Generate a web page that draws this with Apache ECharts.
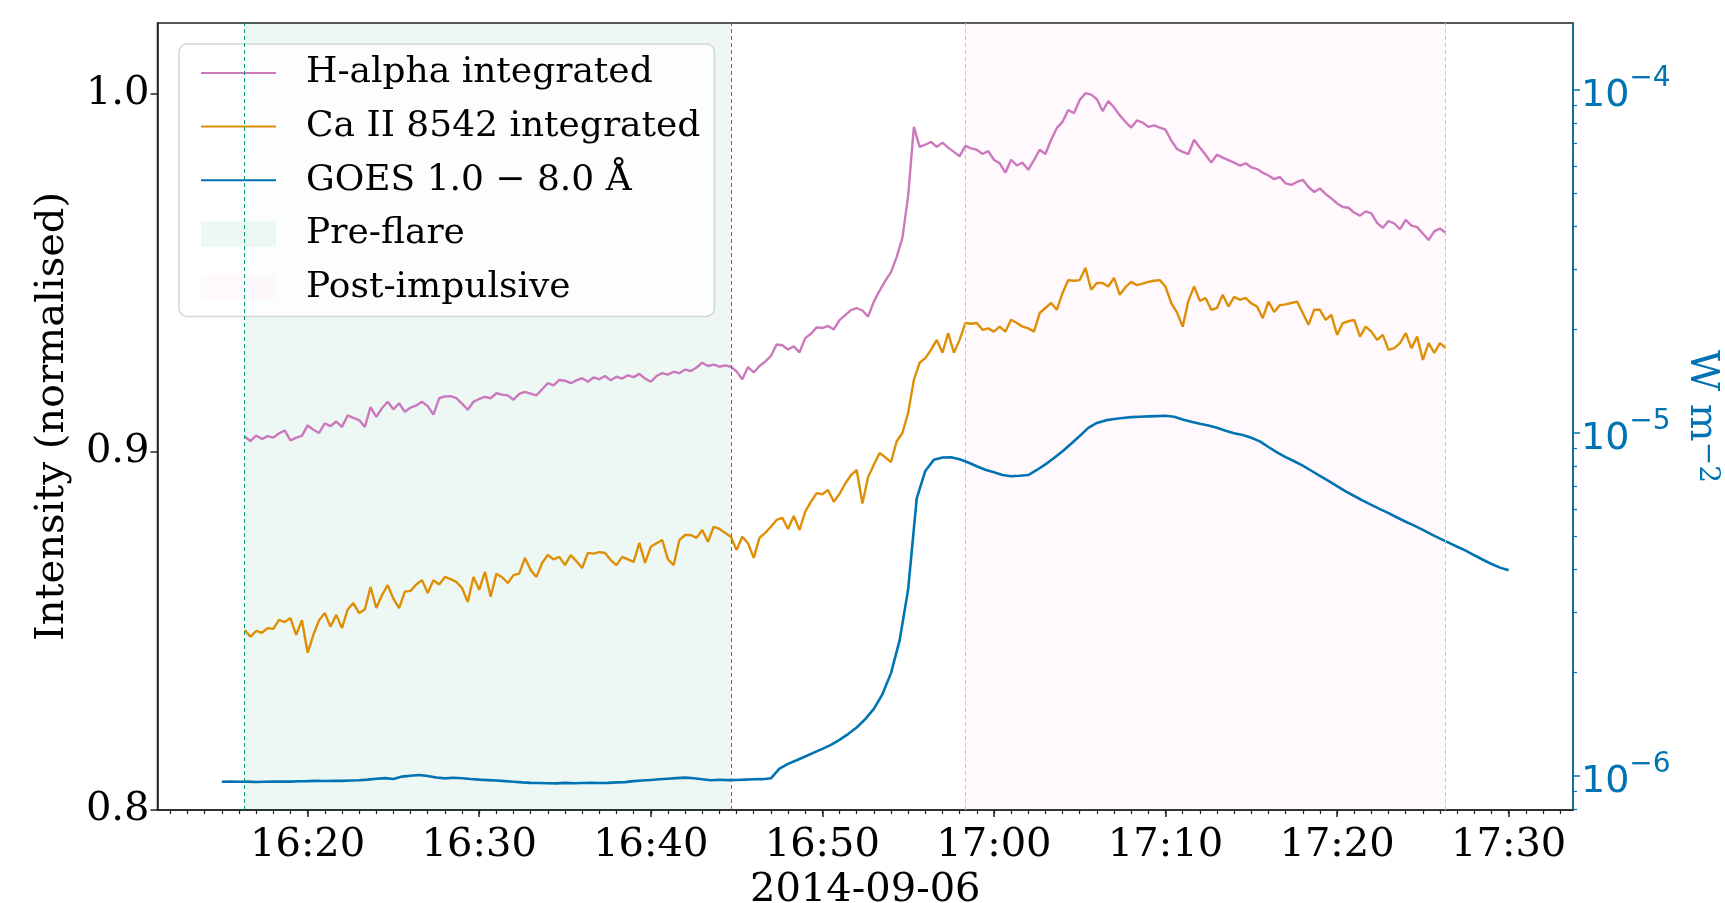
<!DOCTYPE html>
<html>
<head>
<meta charset="utf-8">
<script src="https://cdn.jsdelivr.net/npm/echarts@6/dist/echarts.min.js"></script>
<style>
  html, body { margin: 0; padding: 0; background: #fff; }
  #main { width: 1725px; height: 903px; }
</style>
</head>
<body>
<div id="main"></div>
<script>
// all times are UTC on 2014-09-06
function t(h, m, s) { return Date.UTC(2014, 8, 6, h, m, s || 0); }

// H-alpha integrated (normalised), one value every 20 s from 16:16:20
var haStart = t(16, 16, 20);
var haStep = 20;
var haValues = [
  0.9043, 0.9030, 0.9046,  // 16:16
  0.9036, 0.9044, 0.9040,
  0.9052, 0.9060, 0.9032,
  0.9040, 0.9045, 0.9074,
  0.9062, 0.9053, 0.9080,  // 16:20
  0.9072, 0.9085, 0.9070,
  0.9102, 0.9095, 0.9089,
  0.9070, 0.9125, 0.9098,
  0.9122, 0.9140, 0.9119,
  0.9136, 0.9112, 0.9124,
  0.9130, 0.9140, 0.9128,
  0.9104, 0.9150, 0.9155,
  0.9156, 0.9150, 0.9135,
  0.9118, 0.9140, 0.9148,
  0.9154, 0.9150, 0.9164,  // 16:30
  0.9160, 0.9158, 0.9146,
  0.9162, 0.9168, 0.9163,
  0.9158, 0.9175, 0.9192,
  0.9186, 0.9201, 0.9199,
  0.9192, 0.9200, 0.9206,
  0.9196, 0.9208, 0.9203,
  0.9212, 0.9200, 0.9210,
  0.9205, 0.9214, 0.9209,
  0.9218, 0.9205, 0.9196,
  0.9212, 0.9220, 0.9216,  // 16:40
  0.9224, 0.9220, 0.9230,
  0.9226, 0.9236, 0.9249,
  0.9240, 0.9244, 0.9238,
  0.9242, 0.9238, 0.9225,
  0.9203, 0.9237, 0.9222,
  0.9240, 0.9252, 0.9268,
  0.9300, 0.9298, 0.9286,
  0.9295, 0.9278, 0.9318,
  0.9330, 0.9348, 0.9346,
  0.9352, 0.9342, 0.9368,  // 16:50
  0.9382, 0.9396, 0.9402,
  0.9395, 0.9378, 0.9420,
  0.9450, 0.9478, 0.9502,
  0.9545, 0.9598, 0.9715,
  0.9908, 0.9852, 0.9858,
  0.9866, 0.9852, 0.9864,
  0.9850, 0.9838, 0.9826,
  0.9855, 0.9848, 0.9844,
  0.9832, 0.9840, 0.9816,
  0.9806, 0.9780, 0.9816,  // 17:00
  0.9800, 0.9808, 0.9788,
  0.9815, 0.9844, 0.9832,
  0.9872, 0.9905, 0.9922,
  0.9955, 0.9946, 0.9983,
  1.0002, 0.9998, 0.9985,
  0.9952, 0.9980, 0.9962,
  0.9940, 0.9922, 0.9906,
  0.9926, 0.9920, 0.9908,
  0.9912, 0.9906, 0.9900,
  0.9870, 0.9846, 0.9838,  // 17:10
  0.9832, 0.9872, 0.9850,
  0.9830, 0.9808, 0.9830,
  0.9822, 0.9815, 0.9808,
  0.9800, 0.9806, 0.9795,
  0.9790, 0.9780, 0.9772,
  0.9762, 0.9768, 0.9750,
  0.9746, 0.9754, 0.9760,
  0.9740, 0.9726, 0.9736,
  0.9720, 0.9708, 0.9694,
  0.9684, 0.9682, 0.9668,  // 17:20
  0.9660, 0.9672, 0.9666,
  0.9640, 0.9626, 0.9645,
  0.9638, 0.9622, 0.9648,
  0.9632, 0.9628, 0.9610,
  0.9592, 0.9616, 0.9624,
  0.9612
];

// Ca II 8542 integrated (normalised), same sampling
var caStart = t(16, 16, 20);
var caStep = 20;
var caValues = [
  0.8503, 0.8484, 0.8500,  // 16:16
  0.8495, 0.8508, 0.8506,
  0.8531, 0.8525, 0.8536,
  0.8489, 0.8530, 0.8439,
  0.8489, 0.8530, 0.8550,  // 16:20
  0.8512, 0.8545, 0.8508,
  0.8560, 0.8578, 0.8550,
  0.8560, 0.8623, 0.8564,
  0.8600, 0.8628, 0.8590,
  0.8564, 0.8610, 0.8612,
  0.8630, 0.8642, 0.8606,
  0.8642, 0.8630, 0.8651,
  0.8645, 0.8637, 0.8620,
  0.8581, 0.8651, 0.8615,
  0.8665, 0.8596, 0.8660,  // 16:30
  0.8650, 0.8634, 0.8656,
  0.8660, 0.8704, 0.8670,
  0.8651, 0.8690, 0.8712,
  0.8700, 0.8707, 0.8684,
  0.8712, 0.8695, 0.8676,
  0.8718, 0.8716, 0.8720,
  0.8718, 0.8698, 0.8684,
  0.8707, 0.8700, 0.8693,
  0.8746, 0.8690, 0.8735,
  0.8745, 0.8754, 0.8700,  // 16:40
  0.8684, 0.8754, 0.8768,
  0.8768, 0.8760, 0.8782,
  0.8749, 0.8791, 0.8785,
  0.8774, 0.8763, 0.8726,
  0.8763, 0.8745, 0.8704,
  0.8760, 0.8774, 0.8791,
  0.8810, 0.8816, 0.8785,
  0.8821, 0.8782, 0.8833,
  0.8861, 0.8885, 0.8882,
  0.8894, 0.8861, 0.8883,  // 16:50
  0.8912, 0.8935, 0.8950,
  0.8856, 0.8930, 0.8964,
  0.8997, 0.8985, 0.8972,
  0.9030, 0.9053, 0.9109,
  0.9201, 0.9249, 0.9262,
  0.9285, 0.9313, 0.9277,
  0.9332, 0.9277, 0.9313,
  0.9360, 0.9358, 0.9360,
  0.9341, 0.9345, 0.9336,
  0.9350, 0.9336, 0.9369,  // 17:00
  0.9360, 0.9350, 0.9345,
  0.9336, 0.9388, 0.9402,
  0.9416, 0.9397, 0.9444,
  0.9480, 0.9478, 0.9480,
  0.9514, 0.9453, 0.9472,
  0.9472, 0.9462, 0.9486,
  0.9439, 0.9460, 0.9475,
  0.9466, 0.9470, 0.9475,
  0.9478, 0.9480, 0.9462,
  0.9416, 0.9390, 0.9350,  // 17:10
  0.9422, 0.9462, 0.9422,
  0.9430, 0.9397, 0.9402,
  0.9439, 0.9406, 0.9433,
  0.9425, 0.9430, 0.9415,
  0.9406, 0.9374, 0.9420,
  0.9391, 0.9410, 0.9412,
  0.9416, 0.9420, 0.9388,
  0.9355, 0.9397, 0.9397,
  0.9369, 0.9383, 0.9327,
  0.9360, 0.9365, 0.9369,  // 17:20
  0.9322, 0.9350, 0.9336,
  0.9313, 0.9327, 0.9285,
  0.9290, 0.9304, 0.9332,
  0.9290, 0.9322, 0.9257,
  0.9304, 0.9277, 0.9304,
  0.9290
];

// GOES 1.0-8.0 A flux, every 30 s from 16:15:00, in units of 1e-6 W m^-2
var goesStart = t(16, 15, 0);
var goesStep = 30;
var goesUnit = 1e-6;
var goesValues = [
  0.962, 0.963,  // 16:15
  0.962, 0.963,
  0.961, 0.962,
  0.963, 0.964,
  0.963, 0.965,
  0.966, 0.968,  // 16:20
  0.967, 0.969,
  0.968, 0.970,
  0.972, 0.976,
  0.982, 0.986,
  0.980, 0.996,
  1.002, 1.007,
  1.000, 0.990,
  0.984, 0.988,
  0.985, 0.980,
  0.976, 0.973,  // 16:30
  0.970, 0.966,
  0.962, 0.958,
  0.955, 0.954,
  0.953, 0.952,
  0.955, 0.953,
  0.954, 0.955,
  0.954, 0.955,
  0.958, 0.960,
  0.966, 0.970,
  0.974, 0.978,  // 16:40
  0.982, 0.986,
  0.989, 0.985,
  0.978, 0.972,
  0.975, 0.973,
  0.974, 0.976,
  0.978, 0.979,
  0.985, 1.050,
  1.085, 1.112,
  1.140, 1.170,
  1.200, 1.232,  // 16:50
  1.275, 1.325,
  1.385, 1.465,
  1.570, 1.730,
  1.995, 2.480,
  3.500, 6.450,
  7.750, 8.350,
  8.480, 8.500,
  8.380, 8.200,
  8.000, 7.810,
  7.680, 7.540,  // 17:00
  7.480, 7.500,
  7.540, 7.800,
  8.100, 8.450,
  8.850, 9.300,
  9.800, 10.35,
  10.70, 10.88,
  10.98, 11.06,
  11.12, 11.15,
  11.18, 11.20,
  11.22, 11.15,  // 17:10
  10.95, 10.78,
  10.64, 10.52,
  10.35, 10.15,
  9.98, 9.86,
  9.68, 9.45,
  9.10, 8.78,
  8.50, 8.27,
  8.03, 7.76,
  7.50, 7.25,
  7.00, 6.76,  // 17:20
  6.55, 6.35,
  6.17, 6.00,
  5.84, 5.67,
  5.51, 5.37,
  5.22, 5.06,
  4.92, 4.79,
  4.66, 4.54,
  4.40, 4.27,
  4.15, 4.05,
  3.98         // 17:30
];

var preFlare = [t(16, 16, 20), t(16, 44, 40)];
var postImpulsive = [t(16, 58, 20), t(17, 26, 20)];

var xMin = t(16, 11, 15);
var xMax = t(17, 33, 45);
var timeTicks = [t(16, 20), t(16, 30), t(16, 40), t(16, 50), t(17, 0), t(17, 10), t(17, 20), t(17, 30)];
var minuteTicks = [];
for (var mm = 12; mm <= 93; mm++) minuteTicks.push(t(16, mm));

var intensityTicks = [0.8, 0.9, 1.0];
var fluxTicks = [1e-6, 1e-5, 1e-4];
var fluxMinorTicks = [8e-7, 9e-7, 2e-6, 3e-6, 4e-6, 5e-6, 6e-6, 7e-6, 8e-6, 9e-6,
  2e-5, 3e-5, 4e-5, 5e-5, 6e-5, 7e-5, 8e-5, 9e-5];

function pairs(start, step, values, unit) {
  return values.map(function (v, i) {
    return [start + i * step * 1000, v * (unit || 1)];
  });
}
function pad(n) { return (n < 10 ? '0' : '') + n; }

var serif = 'DejaVu Serif';
var blue = '#0173b2';
var noSymbol = { opacity: 0 };

var myChart = echarts.init(document.getElementById('main'));
myChart.setOption({
  backgroundColor: '#fff',
  animation: false,
  textStyle: { fontFamily: serif },
  grid: {
    left: 157.5, right: 152, top: 23, bottom: 93,
    show: true, borderColor: '#222', borderWidth: 1.5,
    outerBoundsMode: 'none'
  },
  legend: {
    orient: 'vertical',
    left: 179, top: 44,
    padding: [9, 14, 9, 21],
    itemWidth: 75, itemHeight: 26, itemGap: 13.6,
    selectedMode: false,
    backgroundColor: 'rgba(255,255,255,0.8)',
    borderColor: 'rgba(204,204,204,0.8)',
    borderWidth: 1.5, borderRadius: 8,
    textStyle: { fontFamily: serif, fontSize: 36, color: '#000', lineHeight: 40, padding: [0, 0, 0, 25] },
    data: [
      { name: 'H-alpha integrated', itemStyle: noSymbol },
      { name: 'Ca II 8542 integrated', itemStyle: noSymbol },
      { name: 'GOES 1.0 \u2212 8.0 \u00c5', itemStyle: noSymbol },
      { name: 'Pre-flare', icon: 'rect' },
      { name: 'Post-impulsive', icon: 'rect' }
    ]
  },
  xAxis: [{
    type: 'value', min: xMin, max: xMax, position: 'bottom',
    name: '2014-09-06', nameLocation: 'middle', nameGap: 59,
    nameTextStyle: { fontFamily: serif, fontSize: 40, color: '#000' },
    axisLine: { lineStyle: { color: '#222', width: 1.5 } },
    axisTick: { customValues: timeTicks, length: 7, lineStyle: { color: '#222', width: 1.5 } },
    axisLabel: {
      customValues: timeTicks, margin: 16,
      fontFamily: serif, fontSize: 40, color: '#000',
      formatter: function (v) { var d = new Date(v); return pad(d.getUTCHours()) + ':' + pad(d.getUTCMinutes()); }
    },
    splitLine: { show: false }
  }, {
    type: 'value', min: xMin, max: xMax, position: 'bottom',
    axisLine: { show: false },
    axisTick: { customValues: minuteTicks, length: 4, lineStyle: { color: '#222', width: 1.2 } },
    axisLabel: { show: false },
    splitLine: { show: false }
  }],
  yAxis: [{
    type: 'value', min: 0.8, max: 1.0198, position: 'left',
    name: 'Intensity (normalised)', nameLocation: 'middle', nameGap: 85,
    nameTextStyle: { fontFamily: serif, fontSize: 40, color: '#000' },
    axisLine: { show: true, lineStyle: { color: '#222', width: 1.5 } },
    axisTick: { show: true, customValues: intensityTicks, length: 7, lineStyle: { color: '#222', width: 1.5 } },
    axisLabel: {
      customValues: intensityTicks, margin: 8,
      fontFamily: serif, fontSize: 40, color: '#000',
      formatter: function (v) { return v.toFixed(1); }
    },
    splitLine: { show: false }
  }, {
    type: 'log', min: 7.96e-7, max: 1.567e-4, position: 'right',
    name: 'W m{s|\u22122}', nameLocation: 'middle', nameGap: 108, nameRotate: -90,
    nameTextStyle: {
      fontFamily: serif, fontSize: 40, color: blue,
      rich: { s: { fontFamily: serif, fontSize: 28, color: blue, verticalAlign: 'top' } }
    },
    axisLine: { show: true, lineStyle: { color: blue, width: 1.5 } },
    axisTick: { show: true, customValues: fluxTicks, length: 7, lineStyle: { color: blue, width: 1.5 } },
    axisLabel: {
      customValues: fluxTicks, margin: 8, color: blue,
      formatter: function (v) {
        var e = Math.round(Math.log(v) / Math.LN10);
        return '{b|10}{s|\u2212' + (-e) + '}';
      },
      rich: {
        b: { fontFamily: 'DejaVu Sans', fontSize: 38, color: blue, lineHeight: 50, verticalAlign: 'bottom' },
        s: { fontFamily: 'DejaVu Sans', fontSize: 28, color: blue, lineHeight: 28, verticalAlign: 'top' }
      }
    },
    splitLine: { show: false }
  }, {
    type: 'log', min: 7.96e-7, max: 1.567e-4, position: 'right',
    axisLine: { show: false },
    axisTick: { show: true, customValues: fluxMinorTicks, length: 4, lineStyle: { color: blue, width: 1.2 } },
    axisLabel: { show: false },
    splitLine: { show: false }
  }],
  series: [{
    name: 'Pre-flare', type: 'line', data: [], z: 1,
    color: 'rgba(2,158,115,0.07)',
    markArea: {
      silent: true,
      itemStyle: { color: 'rgba(2,158,115,0.07)' },
      data: [[{ xAxis: preFlare[0] }, { xAxis: preFlare[1] }]]
    },
    markLine: {
      silent: true, symbol: 'none', label: { show: false },
      lineStyle: { color: '#029e73', type: [4, 3], width: 1 },
      data: [{ xAxis: preFlare[0] }, { xAxis: preFlare[1] }]
    }
  }, {
    name: 'Post-impulsive', type: 'line', data: [], z: 1,
    color: 'rgba(251,175,228,0.08)',
    markArea: {
      silent: true,
      itemStyle: { color: 'rgba(251,175,228,0.08)' },
      data: [[{ xAxis: postImpulsive[0] }, { xAxis: postImpulsive[1] }]]
    },
    markLine: {
      silent: true, symbol: 'none', label: { show: false },
      lineStyle: { color: '#f4a6dc', type: [4, 3], width: 1 },
      data: [{ xAxis: postImpulsive[0] }, { xAxis: postImpulsive[1] }]
    }
  }, {
    name: 'H-alpha integrated', type: 'line', z: 3,
    showSymbol: false, symbol: 'none', color: '#cc78bc',
    lineStyle: { width: 2.4 },
    data: pairs(haStart, haStep, haValues)
  }, {
    name: 'Ca II 8542 integrated', type: 'line', z: 3,
    showSymbol: false, symbol: 'none', color: '#de8f05',
    lineStyle: { width: 2.4 },
    data: pairs(caStart, caStep, caValues)
  }, {
    name: 'GOES 1.0 \u2212 8.0 \u00c5', type: 'line', z: 3, yAxisIndex: 1,
    showSymbol: false, symbol: 'none', color: blue,
    lineStyle: { width: 2.6 },
    data: pairs(goesStart, goesStep, goesValues, goesUnit)
  }]
});
</script>
</body>
</html>
